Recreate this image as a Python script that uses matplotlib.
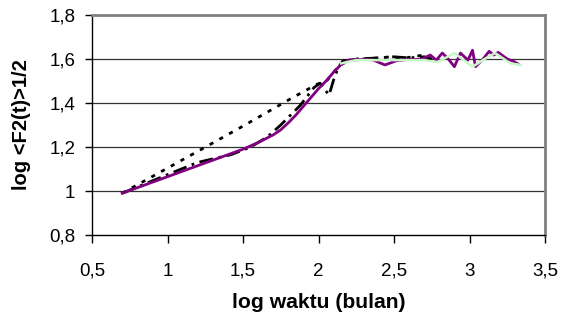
import matplotlib
matplotlib.use("Agg")
import matplotlib.pyplot as plt
from matplotlib.ticker import FixedLocator, FixedFormatter

plt.rcParams['font.family'] = ['Liberation Sans', 'DejaVu Sans']

# Series data (log waktu, log <F2(t)>^1/2)
purple_x = [0.70, 1.00, 1.30, 1.50, 1.60, 1.70, 1.75, 1.80, 1.85, 1.90, 1.95, 2.00, 2.05, 2.10, 2.15, 2.20, 2.30, 2.36, 2.44, 2.52, 2.60, 2.68, 2.74, 2.78, 2.82, 2.86, 2.90, 2.94, 2.99, 3.02, 3.04, 3.09, 3.13, 3.16, 3.19, 3.25, 3.29, 3.32]
purple_y = [0.99, 1.065, 1.14, 1.19, 1.22, 1.255, 1.278, 1.31, 1.345, 1.385, 1.425, 1.465, 1.50, 1.54, 1.575, 1.595, 1.598, 1.596, 1.573, 1.593, 1.598, 1.598, 1.618, 1.595, 1.627, 1.60, 1.565, 1.627, 1.595, 1.64, 1.565, 1.60, 1.635, 1.618, 1.63, 1.60, 1.59, 1.578]

dash_x = [0.70, 1.02, 1.20, 1.42, 1.55, 1.66, 1.75, 1.88, 1.97, 2.01, 2.07, 2.10, 2.13, 2.16, 2.25, 2.40, 2.50, 2.60, 2.70, 2.75]
dash_y = [0.99, 1.08, 1.13, 1.165, 1.20, 1.245, 1.30, 1.39, 1.47, 1.49, 1.436, 1.505, 1.56, 1.59, 1.60, 1.605, 1.61, 1.605, 1.61, 1.60]

dot_x = [0.70, 1.20, 1.50, 1.83, 1.91, 1.99, 2.06, 2.13, 2.20, 2.30, 2.40, 2.48, 2.54, 2.62, 2.72]
dot_y = [0.99, 1.18, 1.295, 1.425, 1.455, 1.485, 1.505, 1.565, 1.595, 1.60, 1.605, 1.61, 1.60, 1.61, 1.62]

green_x = [2.15, 2.25, 2.40, 2.55, 2.70, 2.79, 2.90, 3.02, 3.10, 3.17, 3.27, 3.34]
green_y = [1.58, 1.595, 1.595, 1.595, 1.595, 1.586, 1.627, 1.565, 1.60, 1.627, 1.58, 1.573]

xticks = [0.5, 1.0, 1.5, 2.0, 2.5, 3.0, 3.5]
xtick_labels = ["0,5", "1", "1,5", "2", "2,5", "3", "3,5"]
yticks = [0.8, 1.0, 1.2, 1.4, 1.6, 1.8]
ytick_labels = ["0,8", "1", "1,2", "1,4", "1,6", "1,8"]

fig = plt.figure(figsize=(5.66, 3.27), dpi=100)
ax = fig.add_axes([92/566, 1 - 235/327, (545-92)/566, (235-15)/327])

for y in yticks[1:-1]:
    ax.axhline(y, color='#333333', lw=0.9, zorder=1)

ax.plot(dot_x, dot_y, color='black', lw=2.0, ls=(0, (1.5, 2.5)), zorder=2)
ax.plot(dash_x, dash_y, color='black', lw=2.0, ls=(0, (5, 2, 1, 2)), zorder=3)
ax.plot(purple_x, purple_y, color='#800080', lw=2.0, zorder=4)
ax.plot(green_x, green_y, color='#c8f8c8', lw=1.8, zorder=5)

ax.set_xlim(0.5, 3.5)
ax.set_ylim(0.8, 1.8)
ax.xaxis.set_major_locator(FixedLocator(xticks))
ax.xaxis.set_major_formatter(FixedFormatter(xtick_labels))
ax.yaxis.set_major_locator(FixedLocator(yticks))
ax.yaxis.set_major_formatter(FixedFormatter(ytick_labels))

ax.spines['top'].set_color('#808080')
ax.spines['right'].set_color('#808080')
ax.spines['top'].set_linewidth(2)
ax.spines['right'].set_linewidth(2)
ax.spines['left'].set_color('black')
ax.spines['bottom'].set_color('black')
ax.spines['left'].set_linewidth(1)
ax.spines['bottom'].set_linewidth(1)

ax.tick_params(axis='x', direction='out', length=6, width=1, labelsize=13.5, pad=14)
ax.tick_params(axis='y', direction='out', length=5, width=1, labelsize=13.5, pad=7)

ax.set_xlabel("log waktu (bulan)", fontsize=15.2, fontweight='bold')
ax.set_ylabel("log <F2(t)>1/2", fontsize=14.5, fontweight='bold')
ax.xaxis.set_label_coords(0.5, -(302 - 235) / 220, transform=ax.transAxes)
ax.yaxis.set_label_coords(-(92 - 22) / (545 - 92), 0.5, transform=ax.transAxes)
ax.xaxis.label.set_va('center')
ax.yaxis.label.set_va('center')

fig.savefig("out.png", dpi=100)
